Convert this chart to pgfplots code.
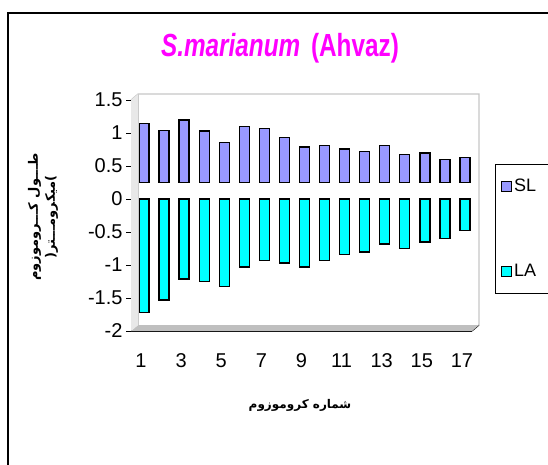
\documentclass[border=0pt]{standalone}
\usepackage{fontspec}
\setmainfont{Liberation Sans}
\newfontfamily\arabicfont[Script=Arabic]{DejaVu Sans}
\newfontfamily\titlefont[FakeStretch=0.76]{Liberation Sans}
\usepackage{pgfplots}
\pgfplotsset{compat=1.18}
\usepackage{pgfplotstable}
\TeXXeTstate=1
\definecolor{slcol}{HTML}{9999FF}
\definecolor{lacol}{HTML}{00FFFF}
\definecolor{titlecol}{HTML}{FF00FF}

% SL: top of the SL bar, LA: bottom of the LA bar
\pgfplotstableread{
x SL LA
1 1.14 -1.72
2 1.04 -1.53
3 1.20 -1.21
4 1.03 -1.25
5 0.86 -1.33
6 1.10 -1.03
7 1.07 -0.93
8 0.93 -0.97
9 0.79 -1.03
10 0.81 -0.93
11 0.76 -0.84
12 0.72 -0.80
13 0.81 -0.68
14 0.67 -0.75
15 0.70 -0.65
16 0.60 -0.60
17 0.63 -0.48
}\chromo

\begin{document}
\begin{tikzpicture}
\useasboundingbox (0pt,0pt) rectangle (548pt,464pt);
\clip (0pt,0pt) rectangle (548pt,464pt);
\draw[line width=1.5pt] (8pt,-10pt) -- (8pt,451pt) -- (560pt,451pt);
\node[font=\titlefont\fontsize{32}{36}\selectfont\bfseries, text=titlecol] at (280pt,416pt) {\textit{S.marianum}\hspace{4pt} (Ahvaz)};
\begin{axis}[
  at={(131pt,133pt)}, anchor=south west,
  scale only axis, width=341pt, height=231pt,
  xmin=0.5, xmax=17.5, ymin=-2, ymax=1.5,
  clip=false,
  ybar stacked, bar width=10pt,
  axis x line*=bottom, axis y line*=left,
  axis line style={-, line width=1pt, black},
  ytick={-2,-1.5,-1,-0.5,0,0.5,1,1.5},
  xtick={1,3,5,7,9,11,13,15,17},
  tick align=outside, major tick length=5pt,
  x tick style={draw=none}, y tick style={black, line width=0.8pt},
  /pgf/number format/assume math mode=true,
  tick label style={font=\fontsize{20}{24}\selectfont},
  xticklabel style={yshift=-14pt},
  xlabel={\beginR شماره کروموزوم\endR},
  xlabel style={font=\arabicfont\bfseries\fontsize{12}{15}\selectfont, at={(axis description cs:0.4956,-0.32)}, anchor=center},
  ylabel={\beginR طـــول کـــروموزوم\endR\\(\beginR میکرومـــتر\endR)},
  ylabel style={font=\arabicfont\bfseries\fontsize{13}{17}\selectfont, align=center, at={(axis description cs:-0.258,0.4935)}, anchor=center},
  legend cell align=left,
  legend image code/.code={\draw[#1, line width=0.8pt] (0pt,-5pt) rectangle (10pt,5pt);},
  legend style={at={(axis description cs:1.067,0.723)}, anchor=north west,
    draw=black, line width=0.8pt, inner xsep=6pt, inner ysep=13pt,
    row sep=67pt, font=\fontsize{18}{21}\selectfont},
]
% 3D-looking walls and floor
\fill[gray!18] (axis cs:0.5,-2) -- (axis cs:0.5,1.5) -- (axis cs:0.85,1.59) -- (axis cs:0.85,-1.91) -- cycle;
\fill[gray!50] (axis cs:0.5,-2) -- (axis cs:17.5,-2) -- (axis cs:17.85,-1.91) -- (axis cs:0.85,-1.91) -- cycle;
\draw[gray!45, line width=1.2pt] (axis cs:0.5,1.5) -- (axis cs:0.85,1.59) -- (axis cs:17.85,1.59) -- (axis cs:17.85,-1.91);
\draw[gray!45, line width=0.8pt] (axis cs:0.85,1.59) -- (axis cs:0.85,-1.91);
\draw[black, line width=1pt] (axis cs:17.5,-2) -- (axis cs:17.85,-1.91);
% stacked bars: positive stack = gap + SL, negative stack = LA
\addplot[draw=none, fill=none, forget plot, bar shift=3pt] table[x=x, y expr=0.25] {\chromo};
\addplot[fill=slcol, draw=black, line width=1.4pt, bar shift=3pt] table[x=x, y expr=\thisrow{SL}-0.25] {\chromo};
\addlegendentry{\makebox[40pt][l]{SL}}
\addplot[fill=lacol, draw=black, line width=1.4pt, bar shift=3pt] table[x=x, y=LA] {\chromo};
\addlegendentry{\makebox[40pt][l]{LA}}
\end{axis}
\end{tikzpicture}
\end{document}
